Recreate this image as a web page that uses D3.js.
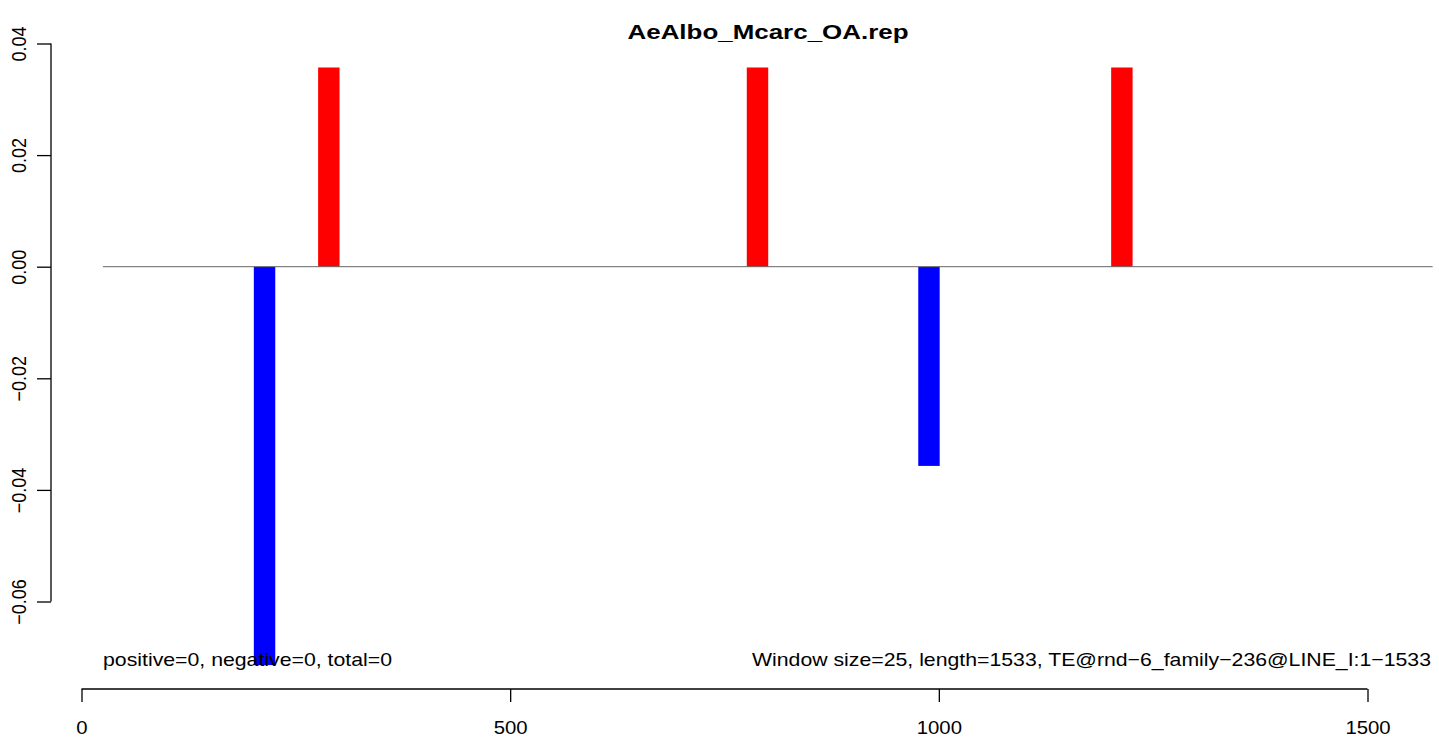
<!DOCTYPE html>
<html>
<head>
<meta charset="utf-8">
<script src="https://cdn.jsdelivr.net/npm/d3@7"></script>
<style>
  html, body { margin: 0; padding: 0; background: #fff; }
  svg { display: block; font-family: "Liberation Sans", Arial, Helvetica, sans-serif; }
</style>
</head>
<body>
<svg id="chart" width="1439" height="737"></svg>
<script>
// ---- data ----
const windowStarts = [201, 276, 776, 976, 1201];
const windowValues = [-0.0714, 0.0357, 0.0357, -0.0357, 0.0357];
const windowSize = 25;
const seqLength = 1533;
const xTicks = [0, 500, 1000, 1500];
const yTicks = [-0.06, -0.04, -0.02, 0.00, 0.02, 0.04];
const baselineRange = [25, 1576];
const titleText = "AeAlbo_Mcarc_OA.rep";
const leftNote = "positive=0, negative=0, total=0";
const rightNote = "Window size=25, length=1533, TE@rnd\u22126_family\u2212236@LINE_I:1\u22121533";

// ---- layout ----
const svg = d3.select("#chart");
const x = d3.scaleLinear().domain([0, 1500]).range([81.5, 1367.5]);
const y = d3.scaleLinear().domain([-0.06, 0.04]).range([601.5, 43.5]);

// bars
svg.append("g").selectAll("rect")
  .data(windowStarts.map((s, i) => ({ s, v: windowValues[i] })))
  .join("rect")
  .attr("x", d => x(d.s))
  .attr("width", d => x(d.s + windowSize) - x(d.s))
  .attr("y", d => Math.min(y(d.v), y(0)))
  .attr("height", d => Math.abs(y(d.v) - y(0)))
  .attr("fill", d => d.v >= 0 ? "#ff0000" : "#0000ff");

// baseline
svg.append("line")
  .attr("x1", x(baselineRange[0])).attr("x2", x(baselineRange[1]))
  .attr("y1", y(0)).attr("y2", y(0))
  .attr("stroke", "#666").attr("stroke-width", 1);

// y axis
const yAxis = svg.append("g")
  .attr("transform", "translate(51,0)")
  .call(d3.axisLeft(y).tickValues(yTicks).tickSize(14).tickPadding(0)
        .tickFormat(d => d3.format(".2f")(d).replace("-", "\u2212")));
yAxis.select(".domain").attr("stroke", "#000").attr("stroke-width", 1.3).attr("d", `M0,${y(0.04)}V${y(-0.06)}`);
yAxis.selectAll(".tick line").attr("stroke", "#000").attr("stroke-width", 1.3);
yAxis.selectAll(".tick text")
  .attr("x", null).attr("dy", null)
  .attr("transform", "translate(-32,0) rotate(-90) scale(1,1.13)")
  .attr("text-anchor", "middle")
  .attr("dominant-baseline", "central")
  .attr("fill", "#000")
  .style("font-size", "18px");

// x axis
const xAxis = svg.append("g")
  .attr("transform", "translate(0,689)")
  .call(d3.axisBottom(x).tickValues(xTicks).tickSize(13).tickPadding(0).tickFormat(d3.format("d")));
xAxis.select(".domain").attr("stroke", "#000").attr("stroke-width", 1.3).attr("d", `M${x(0)},0H${x(1500)}`);
xAxis.selectAll(".tick line").attr("stroke", "#000").attr("stroke-width", 1.3);
xAxis.selectAll(".tick text")
  .attr("y", null).attr("dy", null)
  .attr("transform", "translate(0,45) scale(1.13,1)")
  .attr("fill", "#000")
  .style("font-size", "18px");

// title
svg.append("text")
  .attr("x", 768).attr("y", 38.5)
  .attr("text-anchor", "middle")
  .attr("font-weight", "bold")
  .style("font-size", "21px")
  .attr("textLength", 281).attr("lengthAdjust", "spacingAndGlyphs")
  .text(titleText);

// notes
svg.append("text")
  .attr("x", 103).attr("y", 665.5)
  .style("font-size", "18.5px")
  .attr("textLength", 289).attr("lengthAdjust", "spacingAndGlyphs")
  .text(leftNote);
svg.append("text")
  .attr("x", 752).attr("y", 665.5)
  .style("font-size", "18.5px")
  .attr("textLength", 679).attr("lengthAdjust", "spacingAndGlyphs")
  .text(rightNote);
</script>
</body>
</html>
